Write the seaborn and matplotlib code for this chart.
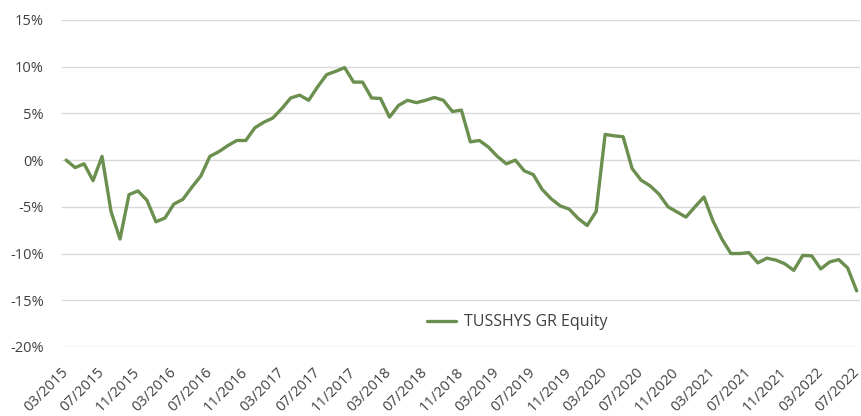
import matplotlib
matplotlib.use("Agg")
import matplotlib.pyplot as plt
import numpy as np
import pandas as pd
import seaborn as sns

# monthly series, 03/2015 .. 07/2022 (values in %)
months = pd.date_range("2015-03-01", "2022-07-01", freq="MS")
values = [
    0.0, -0.8, -0.4, -2.2, 0.4, -5.5, -8.45, -3.7, -3.3, -4.3,
    -6.6, -6.2, -4.7, -4.2, -2.9, -1.7, 0.4, 0.9, 1.55, 2.1,
    2.1, 3.45, 4.05, 4.5, 5.5, 6.65, 6.95, 6.4, 7.85, 9.15,
    9.5, 9.9, 8.35, 8.35, 6.65, 6.6, 4.6, 5.85, 6.4, 6.15,
    6.4, 6.7, 6.4, 5.2, 5.35, 1.95, 2.1, 1.4, 0.4, -0.4,
    0.0, -1.15, -1.55, -3.15, -4.15, -4.9, -5.25, -6.25, -7.0, -5.5,
    2.75, 2.6, 2.5, -0.9, -2.15, -2.75, -3.65, -5.0, -5.55, -6.1,
    -5.0, -3.95, -6.5, -8.45, -10.0, -10.0, -9.9, -11.0, -10.5, -10.7,
    -11.1, -11.8, -10.2, -10.25, -11.65, -10.9, -10.65, -11.55, -14.0,
]
series_name = "TUSSHYS GR Equity"
y_ticks = [-20, -15, -10, -5, 0, 5, 10, 15]

df = pd.DataFrame({"idx": np.arange(len(months)), "value": values, "series": series_name})

sns.set_style("white")
plt.rcParams["font.family"] = ["Open Sans", "DejaVu Sans"]

fig = plt.figure(figsize=(8.62, 4.16), dpi=100)
ax = fig.add_axes([0.072, 0.166, 0.926, 0.786])

sns.lineplot(data=df, x="idx", y="value", hue="series", palette=["#6b8f4e"],
             linewidth=2.4, ax=ax)

ax.set_ylim(-20, 15)
ax.set_yticks(y_ticks)
ax.set_yticklabels([f"{t}%" for t in y_ticks], fontsize=10.5, color="#404040")
ax.yaxis.grid(True, color="#d9d9d9", linewidth=1)
ax.set_axisbelow(True)

ax.set_xlim(-0.45, 88.4)
tick_idx = np.arange(0, len(months), 4)
ax.set_xticks(tick_idx)
ax.set_xticklabels([months[i].strftime("%m/%Y") for i in tick_idx], rotation=45,
                   ha="right", va="center", rotation_mode="anchor",
                   fontsize=10.5, color="#404040")
ax.tick_params(axis="x", length=0, pad=17)
ax.tick_params(axis="y", length=0, pad=13)
ax.set_xlabel("")
ax.set_ylabel("")
for s in ax.spines.values():
    s.set_visible(False)

ax.legend(loc="center", bbox_to_anchor=(0.57, 0.076), frameon=False, fontsize=11.5,
          handlelength=1.8, handletextpad=0.5, labelcolor="#404040")

fig.savefig("out.png", dpi=100)
